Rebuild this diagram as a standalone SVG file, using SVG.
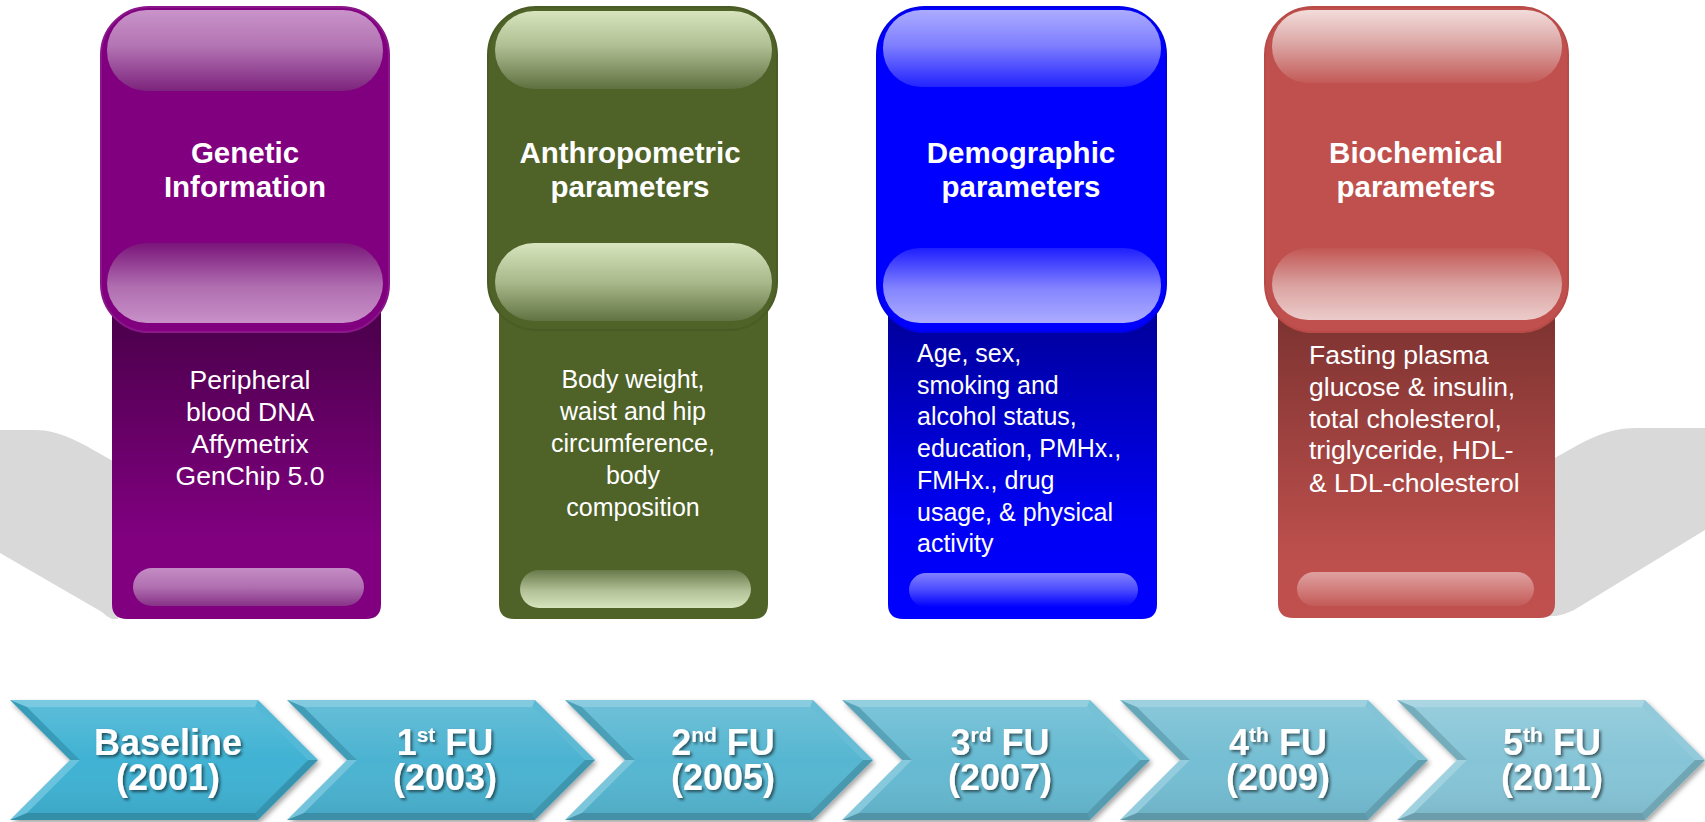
<svg xmlns="http://www.w3.org/2000/svg" width="1705" height="822" viewBox="0 0 1705 822">
  <style>
    .hd{font-family:"Liberation Sans",Arial,sans-serif;font-weight:bold;font-size:29.5px;fill:#fff;text-anchor:middle}
    .bd{font-family:"Liberation Sans",Arial,sans-serif;font-size:25px;fill:#fff}
    .lg{font-size:26.5px}
    .mid{text-anchor:middle}
    .st{font-family:"Liberation Sans",Arial,sans-serif;font-weight:bold;font-size:36px;fill:#fff;text-anchor:middle}
    .sup{font-size:21px}
    .swoosh{fill:#d9d9d9}
  </style>
  <defs>
    <!-- purple card -->
    <linearGradient id="pTop" x1="0" y1="0" x2="0" y2="1"><stop offset="0" stop-color="#c993c9"/><stop offset="0.45" stop-color="#b374b3"/><stop offset="1" stop-color="#7c237c"/></linearGradient>
    <linearGradient id="pBot" x1="0" y1="0" x2="0" y2="1"><stop offset="0" stop-color="#7a157a"/><stop offset="0.55" stop-color="#b06fb0"/><stop offset="1" stop-color="#c890c8"/></linearGradient>
    <linearGradient id="pBody" x1="0" y1="0" x2="0" y2="1"><stop offset="0" stop-color="#450045"/><stop offset="0.75" stop-color="#800080"/><stop offset="1" stop-color="#800080"/></linearGradient>
    <linearGradient id="pFoot" x1="0" y1="0" x2="0" y2="1"><stop offset="0" stop-color="#c48cc4"/><stop offset="0.5" stop-color="#b070b0"/><stop offset="1" stop-color="#873287"/></linearGradient>
    <!-- green card -->
    <linearGradient id="gTop" x1="0" y1="0" x2="0" y2="1"><stop offset="0" stop-color="#d7e4bd"/><stop offset="0.45" stop-color="#b0bf93"/><stop offset="1" stop-color="#5f7040"/></linearGradient>
    <linearGradient id="gBot" x1="0" y1="0" x2="0" y2="1"><stop offset="0" stop-color="#d7e4bd"/><stop offset="0.5" stop-color="#a9b98b"/><stop offset="1" stop-color="#627343"/></linearGradient>
    <linearGradient id="gFoot" x1="0" y1="0" x2="0" y2="1"><stop offset="0" stop-color="#68794a"/><stop offset="0.55" stop-color="#b2c197"/><stop offset="1" stop-color="#d7e4bd"/></linearGradient>
    <!-- blue card -->
    <linearGradient id="bTop" x1="0" y1="0" x2="0" y2="1"><stop offset="0" stop-color="#ababff"/><stop offset="0.45" stop-color="#8080ff"/><stop offset="1" stop-color="#2323ff"/></linearGradient>
    <linearGradient id="bBot" x1="0" y1="0" x2="0" y2="1"><stop offset="0" stop-color="#1e1eff"/><stop offset="0.55" stop-color="#8585ff"/><stop offset="1" stop-color="#acacff"/></linearGradient>
    <linearGradient id="bBody" x1="0" y1="0" x2="0" y2="1"><stop offset="0" stop-color="#000090"/><stop offset="0.7" stop-color="#0000f4"/><stop offset="1" stop-color="#0000ff"/></linearGradient>
    <linearGradient id="bFoot" x1="0" y1="0" x2="0" y2="1"><stop offset="0" stop-color="#8080ff"/><stop offset="0.5" stop-color="#4a4aff"/><stop offset="1" stop-color="#0000ff"/></linearGradient>
    <!-- red card -->
    <linearGradient id="rTop" x1="0" y1="0" x2="0" y2="1"><stop offset="0" stop-color="#f2dcdb"/><stop offset="0.45" stop-color="#dca8a6"/><stop offset="1" stop-color="#c35a57"/></linearGradient>
    <linearGradient id="rBot" x1="0" y1="0" x2="0" y2="1"><stop offset="0" stop-color="#c25754"/><stop offset="0.55" stop-color="#dba6a4"/><stop offset="1" stop-color="#ebcbca"/></linearGradient>
    <linearGradient id="rBody" x1="0" y1="0" x2="0" y2="1"><stop offset="0" stop-color="#76302e"/><stop offset="0.8" stop-color="#bc4f4c"/><stop offset="1" stop-color="#c0504d"/></linearGradient>
    <linearGradient id="rFoot" x1="0" y1="0" x2="0" y2="1"><stop offset="0" stop-color="#dea1a0"/><stop offset="0.5" stop-color="#d27f7d"/><stop offset="1" stop-color="#c35a57"/></linearGradient>

    <!-- timeline chevrons -->
    <linearGradient id="chevShade" x1="0" y1="0" x2="0" y2="1">
      <stop offset="0" stop-color="#fff" stop-opacity="0.14"/>
      <stop offset="0.5" stop-color="#fff" stop-opacity="0"/>
      <stop offset="1" stop-color="#000" stop-opacity="0.06"/>
    </linearGradient>
    <filter id="chevShadow" x="-5%" y="-10%" width="115%" height="130%">
      <feDropShadow dx="2" dy="3" stdDeviation="2.5" flood-color="#000" flood-opacity="0.35"/>
    </filter>
    <filter id="txtShadow" x="-10%" y="-20%" width="130%" height="150%">
      <feDropShadow dx="2" dy="2" stdDeviation="1.5" flood-color="#000" flood-opacity="0.55"/>
    </filter>
    <polygon id="chev" points="0,0 248,0 308,60 248,120 0,120 60,60"/>
    <g id="bevel">
      <polygon points="0,0 248,0 245.1,7 16.9,7" fill="#fff" fill-opacity="0.3"/>
      <polygon points="248,0 308,60 298.1,60 245.1,7" fill="#fff" fill-opacity="0.1"/>
      <polygon points="308,60 248,120 245.1,113 298.1,60" fill="#000" fill-opacity="0.16"/>
      <polygon points="248,120 0,120 16.9,113 245.1,113" fill="#000" fill-opacity="0.2"/>
      <polygon points="0,120 60,60 69.9,60 16.9,113" fill="#fff" fill-opacity="0.22"/>
      <polygon points="60,60 0,0 16.9,7 69.9,60" fill="#000" fill-opacity="0.12"/>
    </g>
    <polygon id="chevFace" points="16.9,7 245.1,7 298.1,60 245.1,113 16.9,113 69.9,60" fill="url(#chevShade)"/>
  </defs>

  <rect width="1705" height="822" fill="#fff"/>

  <!-- grey ribbon passing behind the outer cards -->
  <g id="ribbon">
    <path class="swoosh" d="M0,430 H35 C60,430 80,442 118,464 V619 H112 C108,617 105,615 102,612 L0,553 Z"/>
    <path class="swoosh" d="M1705,428 H1636 C1606,428 1586,440 1548,462 V616 H1556 C1562,615 1568,613 1574,610 L1705,530 Z"/>
  </g>

  <!-- Genetic information -->
  <g id="card-genetic">
    <path d="M112,290 H381 V604 Q381,619 366,619 H127 Q112,619 112,604 Z" fill="url(#pBody)"/>
    <rect x="133" y="568" width="231" height="38" rx="19" fill="url(#pFoot)"/>
    <rect x="101" y="7" width="288" height="325" rx="48" fill="#800080" stroke="#8a168a" stroke-width="2"/>
    <rect x="107" y="10" width="276" height="81" rx="40" fill="url(#pTop)"/>
    <rect x="107" y="243" width="276" height="80" rx="40" fill="url(#pBot)"/>
    <text class="hd" x="245" y="163">Genetic</text>
    <text class="hd" x="245" y="197">Information</text>
    <text class="bd lg mid" x="250" y="389">Peripheral</text>
    <text class="bd lg mid" x="250" y="421">blood DNA</text>
    <text class="bd lg mid" x="250" y="453">Affymetrix</text>
    <text class="bd lg mid" x="250" y="485">GenChip 5.0</text>
  </g>

  <!-- Anthropometric parameters -->
  <g id="card-anthropometric">
    <path d="M499,290 H768 V604 Q768,619 753,619 H514 Q499,619 499,604 Z" fill="#4f6228"/>
    <rect x="520" y="570" width="231" height="38" rx="19" fill="url(#gFoot)"/>
    <rect x="488" y="7" width="289" height="323" rx="48" fill="#4f6228" stroke="#4a5c25" stroke-width="2"/>
    <rect x="495" y="11" width="277" height="78" rx="39" fill="url(#gTop)"/>
    <rect x="495" y="243" width="277" height="78" rx="39" fill="url(#gBot)"/>
    <text class="hd" x="630" y="163">Anthropometric</text>
    <text class="hd" x="630" y="197">parameters</text>
    <text class="bd mid" x="633" y="388">Body weight,</text>
    <text class="bd mid" x="633" y="420">waist and hip</text>
    <text class="bd mid" x="633" y="452">circumference,</text>
    <text class="bd mid" x="633" y="484">body</text>
    <text class="bd mid" x="633" y="516">composition</text>
  </g>

  <!-- Demographic parameters -->
  <g id="card-demographic">
    <path d="M888,290 H1157 V604 Q1157,619 1142,619 H903 Q888,619 888,604 Z" fill="url(#bBody)"/>
    <rect x="909" y="573" width="229" height="34" rx="17" fill="url(#bFoot)"/>
    <rect x="877" y="7" width="289" height="325" rx="48" fill="#0000ff" stroke="#0000e6" stroke-width="2"/>
    <rect x="883" y="10" width="278" height="77" rx="38" fill="url(#bTop)"/>
    <rect x="883" y="248" width="278" height="75" rx="37" fill="url(#bBot)"/>
    <text class="hd" x="1021" y="163">Demographic</text>
    <text class="hd" x="1021" y="197">parameters</text>
    <text class="bd" x="917" y="362">Age, sex,</text>
    <text class="bd" x="917" y="394">smoking and</text>
    <text class="bd" x="917" y="425">alcohol status,</text>
    <text class="bd" x="917" y="457">education, PMHx.,</text>
    <text class="bd" x="917" y="489">FMHx., drug</text>
    <text class="bd" x="917" y="521">usage, &amp; physical</text>
    <text class="bd" x="917" y="552">activity</text>
  </g>

  <!-- Biochemical parameters -->
  <g id="card-biochemical">
    <path d="M1278,290 H1555 V603 Q1555,618 1540,618 H1293 Q1278,618 1278,603 Z" fill="url(#rBody)"/>
    <rect x="1297" y="572" width="237" height="34" rx="17" fill="url(#rFoot)"/>
    <rect x="1265" y="7" width="303" height="325" rx="48" fill="#c0504d" stroke="#b84a47" stroke-width="2"/>
    <rect x="1272" y="10" width="290" height="73" rx="36" fill="url(#rTop)"/>
    <rect x="1272" y="248" width="290" height="72" rx="36" fill="url(#rBot)"/>
    <text class="hd" x="1416" y="163">Biochemical</text>
    <text class="hd" x="1416" y="197">parameters</text>
    <text class="bd lg" x="1309" y="364">Fasting plasma</text>
    <text class="bd lg" x="1309" y="396">glucose &amp; insulin,</text>
    <text class="bd lg" x="1309" y="428">total cholesterol,</text>
    <text class="bd lg" x="1309" y="459">triglyceride, HDL-</text>
    <text class="bd lg" x="1309" y="492">&amp; LDL-cholesterol</text>
  </g>

  <!-- follow-up timeline -->
  <g id="stage-baseline" transform="translate(10,700)">
    <use href="#chev" fill="#40b2d3" filter="url(#chevShadow)"/>
    <use href="#bevel"/><use href="#chevFace"/>
    <g filter="url(#txtShadow)">
      <text class="st" x="158" y="55">Baseline</text>
      <text class="st" x="158" y="90">(2001)</text>
    </g>
  </g>
  <g id="stage-fu1" transform="translate(287,700)">
    <use href="#chev" fill="#4bb3d1" filter="url(#chevShadow)"/>
    <use href="#bevel"/><use href="#chevFace"/>
    <g filter="url(#txtShadow)">
      <text class="st" x="158" y="55">1<tspan class="sup" dy="-13">st</tspan><tspan dy="13"> FU</tspan></text>
      <text class="st" x="158" y="90">(2003)</text>
    </g>
  </g>
  <g id="stage-fu2" transform="translate(565,700)">
    <use href="#chev" fill="#57b6d1" filter="url(#chevShadow)"/>
    <use href="#bevel"/><use href="#chevFace"/>
    <g filter="url(#txtShadow)">
      <text class="st" x="158" y="55">2<tspan class="sup" dy="-13">nd</tspan><tspan dy="13"> FU</tspan></text>
      <text class="st" x="158" y="90">(2005)</text>
    </g>
  </g>
  <g id="stage-fu3" transform="translate(842,700)">
    <use href="#chev" fill="#66bad2" filter="url(#chevShadow)"/>
    <use href="#bevel"/><use href="#chevFace"/>
    <g filter="url(#txtShadow)">
      <text class="st" x="158" y="55">3<tspan class="sup" dy="-13">rd</tspan><tspan dy="13"> FU</tspan></text>
      <text class="st" x="158" y="90">(2007)</text>
    </g>
  </g>
  <g id="stage-fu4" transform="translate(1120,700)">
    <use href="#chev" fill="#74bed3" filter="url(#chevShadow)"/>
    <use href="#bevel"/><use href="#chevFace"/>
    <g filter="url(#txtShadow)">
      <text class="st" x="158" y="55">4<tspan class="sup" dy="-13">th</tspan><tspan dy="13"> FU</tspan></text>
      <text class="st" x="158" y="90">(2009)</text>
    </g>
  </g>
  <g id="stage-fu5" transform="translate(1397,700)">
    <use href="#chev" fill="#86c5d7" filter="url(#chevShadow)"/>
    <use href="#bevel"/><use href="#chevFace"/>
    <g filter="url(#txtShadow)">
      <text class="st" x="155" y="55">5<tspan class="sup" dy="-13">th</tspan><tspan dy="13"> FU</tspan></text>
      <text class="st" x="155" y="90">(2011)</text>
    </g>
  </g>
</svg>
